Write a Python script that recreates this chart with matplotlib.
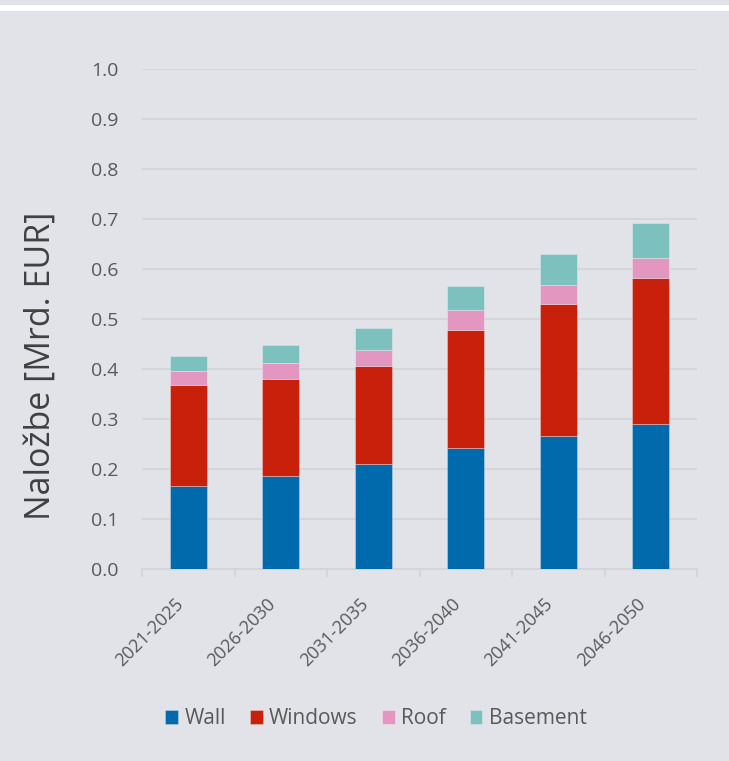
import matplotlib
matplotlib.use("Agg")
import matplotlib.pyplot as plt
from matplotlib.patches import Rectangle
from matplotlib.transforms import ScaledTranslation
import numpy as np

periods = ["2021-2025", "2026-2030", "2031-2035", "2036-2040", "2041-2045", "2046-2050"]
wall = [0.167, 0.186, 0.211, 0.243, 0.266, 0.291]
windows = [0.201, 0.194, 0.196, 0.236, 0.265, 0.292]
roof = [0.029, 0.033, 0.032, 0.039, 0.038, 0.040]
basement = [0.029, 0.035, 0.043, 0.048, 0.061, 0.068]
series_names = ["Wall", "Windows", "Roof", "Basement"]
colors = ["#006AAC", "#C8200A", "#E396C0", "#7DC1BF"]

bg = "#E2E3E8"
text_col = "#595959"
grid_col = "#D3D4D8"

plt.rcParams["font.family"] = ["Open Sans", "DejaVu Sans"]

fig = plt.figure(figsize=(7.29, 7.61), dpi=100, facecolor=bg)
fig.add_artist(Rectangle((0, 1 - 11 / 761), 1, 6 / 761, transform=fig.transFigure,
                         facecolor="white", edgecolor="none"))
ax = fig.add_axes([142 / 729, 1 - 569 / 761, (697 - 142) / 729, (569 - 69) / 761])
ax.set_facecolor(bg)

x = np.arange(len(periods))
bottom = np.zeros(len(periods))
for name, vals, c in zip(series_names, [wall, windows, roof, basement], colors):
    ax.bar(x, vals, 0.4, bottom=bottom, color=c, label=name,
           edgecolor=(1, 1, 1, 0.35), linewidth=0.6, zorder=3)
    bottom += np.array(vals)

ax.set_xlim(-0.5, len(periods) - 0.5)
ax.set_ylim(0, 1.0)
yt = np.arange(0, 1.01, 0.1)
ax.set_yticks(yt)
ax.set_yticklabels([f"{v:.1f}" for v in yt])
ax.yaxis.grid(True, color=grid_col, linewidth=1.2, zorder=0)
ax.set_axisbelow(True)

for s in ["top", "right", "left"]:
    ax.spines[s].set_visible(False)
ax.spines["bottom"].set_color(grid_col)
ax.spines["bottom"].set_linewidth(1.2)

ax.tick_params(axis="y", length=0, pad=17, labelsize=14, labelcolor=text_col)
ax.set_xticks(x)
ax.set_xticklabels(periods, rotation=45, ha="right", va="center",
                   rotation_mode="anchor", fontsize=13, color=text_col)
ax.tick_params(axis="x", length=0, pad=23)
shift = ScaledTranslation(-8 / 100, 0, fig.dpi_scale_trans)
for lbl in ax.get_xticklabels():
    lbl.set_transform(lbl.get_transform() + shift)
ax.set_xticks(np.arange(-0.5, len(periods), 1.0), minor=True)
ax.tick_params(axis="x", which="minor", length=6, width=1.2, color=grid_col)

fig.text(41 / 729, 1 - 366 / 761, "Naložbe [Mrd. EUR]", rotation=90,
         ha="center", va="center", fontsize=24.5, color="#404040")

handles, labels = ax.get_legend_handles_labels()
fig.legend(handles, labels, loc="center", bbox_to_anchor=(376 / 729, 1 - 719 / 761),
           ncol=4, frameon=False, fontsize=15, labelcolor=text_col,
           handlelength=0.62, handleheight=0.62, handletextpad=0.3,
           columnspacing=1.15, borderpad=0)

fig.savefig("out.png", dpi=100, facecolor=bg)
